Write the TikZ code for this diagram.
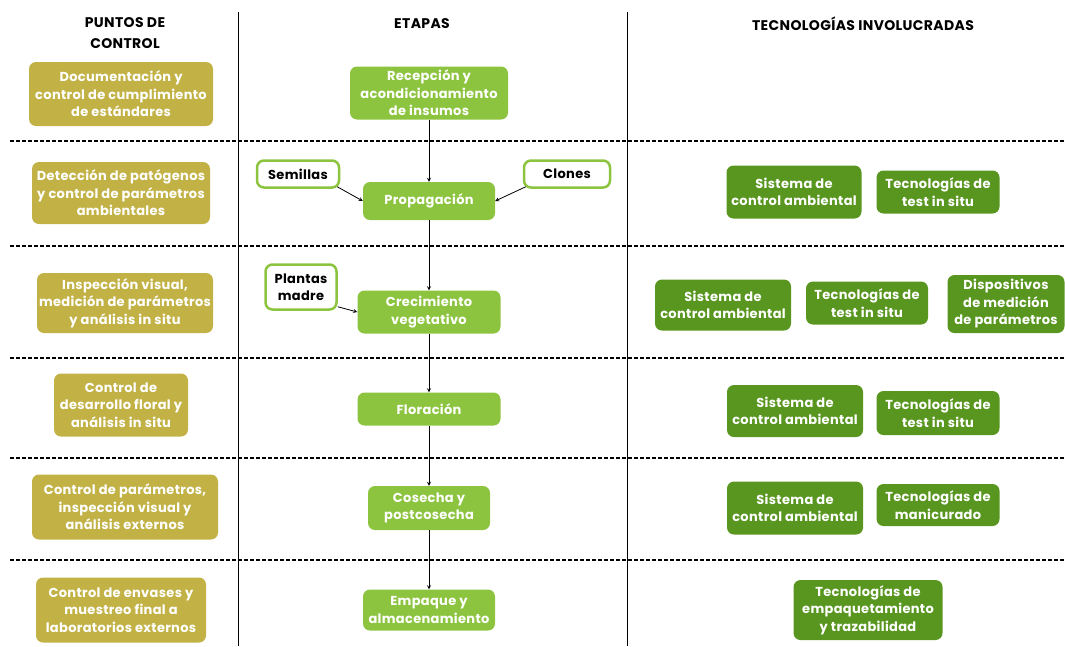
\documentclass[tikz,border=0pt]{standalone}
\usepackage{fontspec}
\setmainfont{Poppins}[LetterSpace=2.5]
\definecolor{oliva}{RGB}{194,178,70}
\definecolor{verdeclaro}{RGB}{140,196,63}
\definecolor{verdeoscuro}{RGB}{88,150,32}
\begin{document}
\begin{tikzpicture}[x=1pt,y=-1pt,
  caja/.style={rounded corners=7pt,inner sep=0pt,align=center,text=white,font=\bfseries\fontsize{13}{17.5}\selectfont},
  control/.style={caja,fill=oliva},
  etapa/.style={caja,fill=verdeclaro},
  insumo/.style={caja,fill=white,draw=verdeclaro,line width=2.5pt,text=black},
  tecno/.style={caja,fill=verdeoscuro},
  titulo/.style={align=center,font=\bfseries\fontsize{14}{21}\selectfont},
  flecha/.style={->,>=stealth,thick},
  divisor/.style={dash pattern=on 4pt off 2pt,line width=1.5pt}]
  \useasboundingbox (0,0) rectangle (1065,646);
  % columnas y filas
  \draw[thick] (238,12) -- (238,646);
  \draw[thick] (627,12) -- (627,646);
  \foreach \y in {141,246,358,458,560}
    \draw[divisor] (10,\y) -- (1065,\y);
  % titulos
  \node[titulo] (tpuntos) at (125,33) {PUNTOS DE\\CONTROL};
  \node[titulo] (tetapas) at (422,24) {ETAPAS};
  \node[titulo] (ttecno) at (863,24) {TECNOLOGÍAS INVOLUCRADAS};
  % puntos de control
  \node[control,minimum width=184,minimum height=64] (c1) at (121,94) {Documentación y\\control de cumplimiento\\de estándares};
  \node[control,minimum width=178,minimum height=62] (c2) at (121,193) {Detección de patógenos\\y control de parámetros\\ambientales};
  \node[control,minimum width=176,minimum height=60] (c3) at (125,303) {Inspección visual,\\medición de parámetros\\y análisis in situ};
  \node[control,minimum width=134,minimum height=63] (c4) at (121,405) {Control de\\desarrollo floral y\\análisis in situ};
  \node[control,minimum width=186,minimum height=65] (c5) at (125,507) {Control de parámetros,\\inspección visual y\\análisis externos};
  \node[control,minimum width=170,minimum height=65] (c6) at (121,610) {Control de envases y\\muestreo final a\\laboratorios externos};
  % etapas
  \node[etapa,minimum width=158,minimum height=53] (recepcion) at (429,93) {Recepción y\\acondicionamiento\\de insumos};
  \node[etapa,minimum width=132,minimum height=38] (propagacion) at (429,201) {Propagación};
  \node[etapa,minimum width=143,minimum height=43] (crecimiento) at (429,312) {Crecimiento\\vegetativo};
  \node[etapa,minimum width=143,minimum height=33] (floracion) at (429,409) {Floración};
  \node[etapa,minimum width=122,minimum height=44] (cosecha) at (429,508) {Cosecha y\\postcosecha};
  \node[etapa,minimum width=132,minimum height=41] (empaque) at (429,610) {Empaque y\\almacenamiento};
  \node[insumo,minimum width=82,minimum height=27] (semillas) at (298,174) {Semillas};
  \node[insumo,minimum width=86,minimum height=27] (clones) at (567,174) {Clones};
  \node[insumo,minimum width=71,minimum height=45] (plantas) at (301,287) {Plantas\\madre};
  \draw[flecha] (recepcion) -- (propagacion);
  \draw[flecha] (propagacion) -- (crecimiento);
  \draw[flecha] (crecimiento) -- (floracion);
  \draw[flecha] (floracion) -- (cosecha);
  \draw[flecha] (cosecha) -- (empaque);
  \draw[flecha] ([shift={(-3,-2)}]semillas.south east) -- (propagacion.west);
  \draw[flecha] ([shift={(3,-2)}]clones.south west) -- (propagacion.east);
  \draw[flecha] ([shift={(0,-4)}]plantas.south east) -- (crecimiento.west);
  % tecnologias
  \node[tecno,minimum width=135,minimum height=53] (ambiental1) at (794,192) {Sistema de\\control ambiental};
  \node[tecno,minimum width=123,minimum height=43] (test1) at (938,192) {Tecnologías de\\test in situ};
  \node[tecno,minimum width=136,minimum height=51] (ambiental2) at (723,305) {Sistema de\\control ambiental};
  \node[tecno,minimum width=122,minimum height=43] (test2) at (867,303) {Tecnologías de\\test in situ};
  \node[tecno,minimum width=117,minimum height=58] (medicion) at (1006,304) {Dispositivos\\de medición\\de parámetros};
  \node[tecno,minimum width=136,minimum height=52] (ambiental3) at (795,411) {Sistema de\\control ambiental};
  \node[tecno,minimum width=123,minimum height=44] (test3) at (938,413) {Tecnologías de\\test in situ};
  \node[tecno,minimum width=136,minimum height=53] (ambiental4) at (795,508) {Sistema de\\control ambiental};
  \node[tecno,minimum width=123,minimum height=42] (manicurado) at (938,505) {Tecnologías de\\manicurado};
  \node[tecno,minimum width=149,minimum height=60] (empaquetado) at (868,610) {Tecnologías de\\empaquetamiento\\y trazabilidad};
\end{tikzpicture}
\end{document}
